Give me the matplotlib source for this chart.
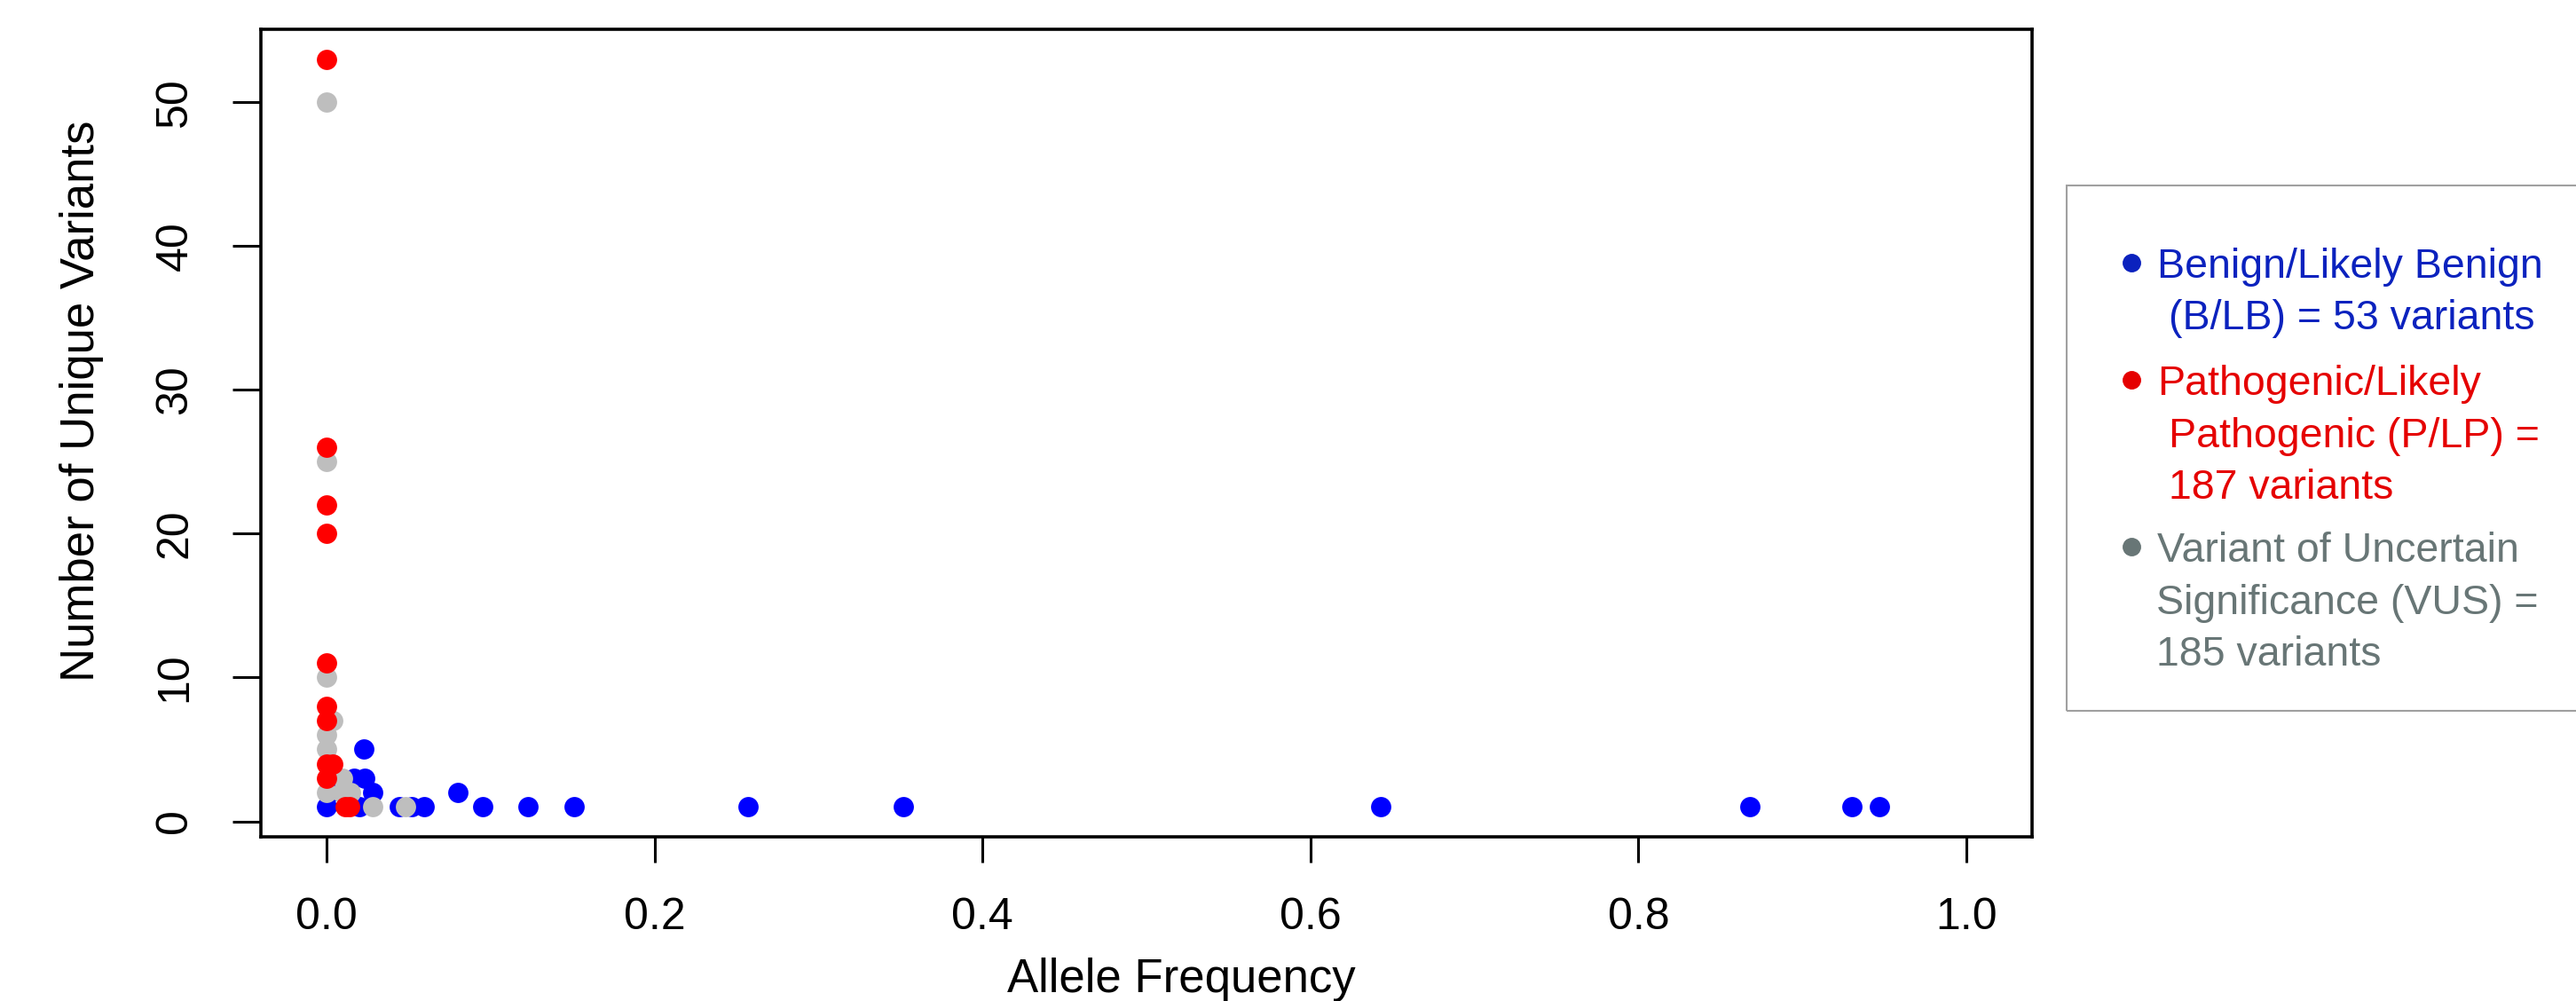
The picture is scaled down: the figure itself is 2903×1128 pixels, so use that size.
import matplotlib
matplotlib.use('Agg')
import matplotlib.pyplot as plt
from matplotlib.lines import Line2D
from matplotlib.patches import Rectangle

plt.rcParams['font.family'] = ['Liberation Sans', 'DejaVu Sans']

# allele frequency / number of unique variants
blue_x = [0.0, 0.020, 0.0446, 0.052, 0.0595, 0.095, 0.123, 0.151, 0.257, 0.352,
          0.643, 0.868, 0.930, 0.947, 0.002, 0.028, 0.080, 0.003, 0.017, 0.0234, 0.0227]
blue_y = [1, 1, 1, 1, 1, 1, 1, 1, 1, 1,
          1, 1, 1, 1, 2, 2, 2, 3, 3, 3, 5]
gray_x = [0.0, 0.0, 0.0, 0.0036, 0.0, 0.0, 0.0, 0.0095, 0.0145, 0.010, 0.028, 0.048]
gray_y = [50, 25, 10, 7, 6, 5, 2, 2, 2, 3, 1, 1]
red_x = [0.0, 0.0, 0.0, 0.0, 0.0, 0.0, 0.0, 0.0, 0.0036, 0.0, 0.0115, 0.014]
red_y = [53, 26, 22, 20, 11, 8, 7, 4, 4, 3, 1, 1]

xticks = [0.0, 0.2, 0.4, 0.6, 0.8, 1.0]
xticklabels = ['0.0', '0.2', '0.4', '0.6', '0.8', '1.0']
yticks = [0, 10, 20, 30, 40, 50]

legend_lines = [
    ('Benign/Likely Benign', '#0B22BE', 313, 2431, True),
    ('(B/LB) = 53 variants', '#0B22BE', 371, 2444, False),
    ('Pathogenic/Likely', '#E50000', 445, 2431, True),
    ('Pathogenic (P/LP) =', '#E50000', 504, 2444, False),
    ('187 variants', '#E50000', 562, 2444, False),
    ('Variant of Uncertain', '#687676', 633, 2431, True),
    ('Significance (VUS) =', '#687676', 692, 2430, False),
    ('185 variants', '#687676', 750, 2430, False),
]

W, H = 2903, 1128
fig = plt.figure(figsize=(W / 100, H / 100), dpi=100)
ax = fig.add_axes([294 / W, 1 - 943 / H, (2290 - 294) / W, (943 - 33) / H])

ms = 270
ax.scatter(blue_x, blue_y, s=ms, c='#0000FF', linewidths=0, zorder=3)
ax.scatter(gray_x, gray_y, s=ms, c='#BEBEBE', linewidths=0, zorder=4)
ax.scatter(red_x, red_y, s=ms, c='#FF0000', linewidths=0, zorder=5)

ax.set_xlim(-0.04, 1.04)
ax.set_ylim(-1.08, 55.08)
ax.set_xticks(xticks)
ax.set_xticklabels(xticklabels)
ax.set_yticks(yticks)
ax.set_yticklabels([str(v) for v in yticks], rotation=90, va='center')
for s in ax.spines.values():
    s.set_linewidth(2.6)
ax.tick_params(axis='x', length=21, width=2.2, pad=28, labelsize=36)
ax.tick_params(axis='y', length=23, width=2.2, pad=30, labelsize=36)

fig.text(1331 / W, 1 - 1118 / H, 'Allele Frequency', ha='center', va='baseline', fontsize=38)
fig.text(92 / W, 1 - 452 / H, 'Number of Unique Variants', ha='center', va='center',
         rotation=90, fontsize=38)

# legend box drawn by hand
fig.add_artist(Rectangle((2329 / W, 1 - 801 / H), (2920 - 2329) / W, (801 - 209) / H,
                         transform=fig.transFigure, fill=False, edgecolor='#A0A0A0', linewidth=1.5))
for txt, col, yb, xs, bullet in legend_lines:
    fig.text(xs / W, 1 - yb / H, txt, color=col, fontsize=33.5, ha='left', va='baseline')
    if bullet:
        fig.add_artist(Line2D([2402 / W], [1 - (yb - 17) / H], marker='o', markersize=14,
                              color=col, linestyle='none', transform=fig.transFigure))

fig.savefig('out.png', dpi=100)
